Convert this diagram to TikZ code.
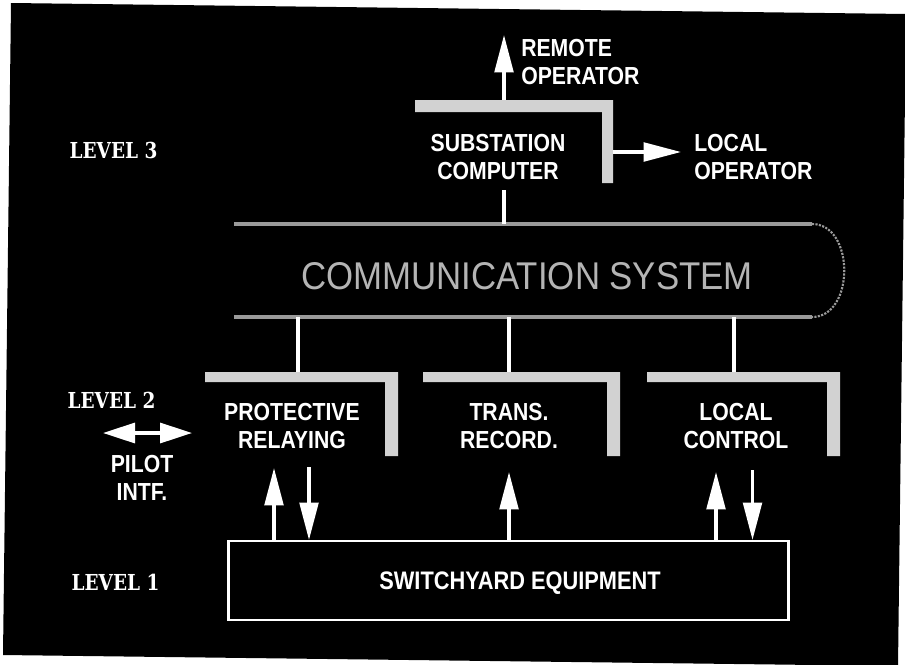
\documentclass[tikz,border=0pt]{standalone}
\usepackage{fontspec}
\usepackage{tikz}
\usetikzlibrary{arrows.meta,positioning,calc}
\newfontfamily\lblfont[FakeStretch=0.86]{Liberation Sans}
\newfontfamily\commfont[FakeStretch=0.9]{Liberation Sans}
\newfontfamily\lvlfont[FakeStretch=0.84]{DejaVu Serif}
\definecolor{Bar}{HTML}{D2D2D2}
\definecolor{Speck}{HTML}{9A9A9A}
\definecolor{SpeckText}{HTML}{B4B4B4}
\tikzset{
  lbl/.style={text=white,inner sep=0pt,align=center,font=\lblfont\bfseries\fontsize{18.5}{21.5}\selectfont},
  lvl/.style={text=white,inner sep=0pt,font=\lvlfont\bfseries\fontsize{16.5}{18}\selectfont},
  commtext/.style={text=SpeckText,inner sep=0pt,font=\commfont\fontsize{29}{30}\selectfont},
  feed/.style={draw=white,line width=2.6pt},
  bigarrow/.style={draw=white,line width=2.4pt,-{Triangle[length=28pt,width=14pt]}},
  twoway/.style={draw=white,line width=2.4pt,{Triangle[length=24pt,width=15pt]}-{Triangle[length=24pt,width=15pt]}},
  bar/.style={fill=Bar},
  swbox/.style={draw=white,line width=1.8pt,minimum width=420pt,minimum height=59pt,inner sep=0pt},
  outline/.style={draw=Speck,line width=2.6pt}
}
\begin{document}
\begin{tikzpicture}[x=0.75pt,y=-0.75pt]
  \useasboundingbox (0,0) rectangle (905,664);
  % scanned sheet
  \fill[white] (0,0) rectangle (905,664);
  \fill[black] (11,3) -- (906,14) -- (898,666) -- (3,655) -- cycle;

  % level labels
  \node[lvl] (lev3) at (113.5,150) {LEVEL 3};
  \node[lvl] (lev2) at (111.5,400.5) {LEVEL 2};
  \node[lvl] (lev1) at (115.5,582) {LEVEL 1};

  % level 3
  \fill[bar] (415,100) -- (613,100) -- (613,183) -- (602,183) -- (602,112) -- (415,112) -- cycle;
  \node[lbl] (subst) at (498,157) {SUBSTATION\\COMPUTER};
  \node[lbl,align=left,anchor=west] (remote) at (521,62) {REMOTE\\OPERATOR};
  \node[lbl,align=left,anchor=west] (localop) at (694,157) {LOCAL\\OPERATOR};
  \coordinate (subTop) at (504,100);
  \coordinate (remTip) at (504,35);
  \coordinate (subSide) at (613,152);
  \coordinate (locTip) at (681,152);
  \coordinate (subFoot) at (504,190);
  \draw[bigarrow] (subTop) -- (remTip);
  \draw[bigarrow] (subSide) -- (locTip);

  % communication system
  \coordinate (commTL) at (234,224);
  \coordinate (commBL) at (234,317);
  \draw[outline] (commTL) -- (812,224);
  \draw[outline] (commBL) -- (812,317);
  \draw[draw=Speck,line width=1.6pt,densely dotted] (812,224) .. controls (855,224) and (855,317) .. (812,317);
  \node[commtext] (comm) at (527,276) {COMMUNICATION SYSTEM};
  \draw[feed] (subFoot) -- (commTL -| subFoot);

  % level 2
  \foreach \xl/\xr in {205/398,423/620,647/840}
    \fill[bar] (\xl,372) -- (\xr,372) -- (\xr,456) -- ({\xr-13},456) -- ({\xr-13},382) -- (\xl,382) -- cycle;
  \node[lbl] (prot) at (292,426) {PROTECTIVE\\RELAYING};
  \node[lbl] (trans) at (509,426) {TRANS.\\RECORD.};
  \node[lbl] (lctrl) at (736,426) {LOCAL\\CONTROL};
  \coordinate (protTop) at (298,372);
  \coordinate (transTop) at (509,372);
  \coordinate (lctrlTop) at (734,372);
  \foreach \t in {protTop,transTop,lctrlTop}
    \draw[feed] (commBL -| \t) -- (\t);

  % pilot interface
  \coordinate (pilotL) at (103,433);
  \coordinate (pilotR) at (192,433);
  \draw[twoway] (pilotL) -- (pilotR);
  \node[lbl] (pilot) at (142,478) {PILOT\\INTF.};

  % level 1
  \node[swbox] (sw) at (508.5,580.5) {};
  \node[lbl,font=\lblfont\bfseries\fontsize{19}{20}\selectfont] (swtext) at (520,583) {SWITCHYARD EQUIPMENT};
  \foreach \n/\x/\y in {pu/274/468,pd/309/467,tu/509/472,lu/716/472,ld/752.5/470}
    \coordinate (\n) at (\x,\y);
  \draw[bigarrow] (sw.north -| pu) -- (pu);
  \draw[bigarrow] (pd) -- (sw.north -| pd);
  \draw[bigarrow] (sw.north -| tu) -- (tu);
  \draw[bigarrow] (sw.north -| lu) -- (lu);
  \draw[bigarrow] (ld) -- (sw.north -| ld);
\end{tikzpicture}
\end{document}
